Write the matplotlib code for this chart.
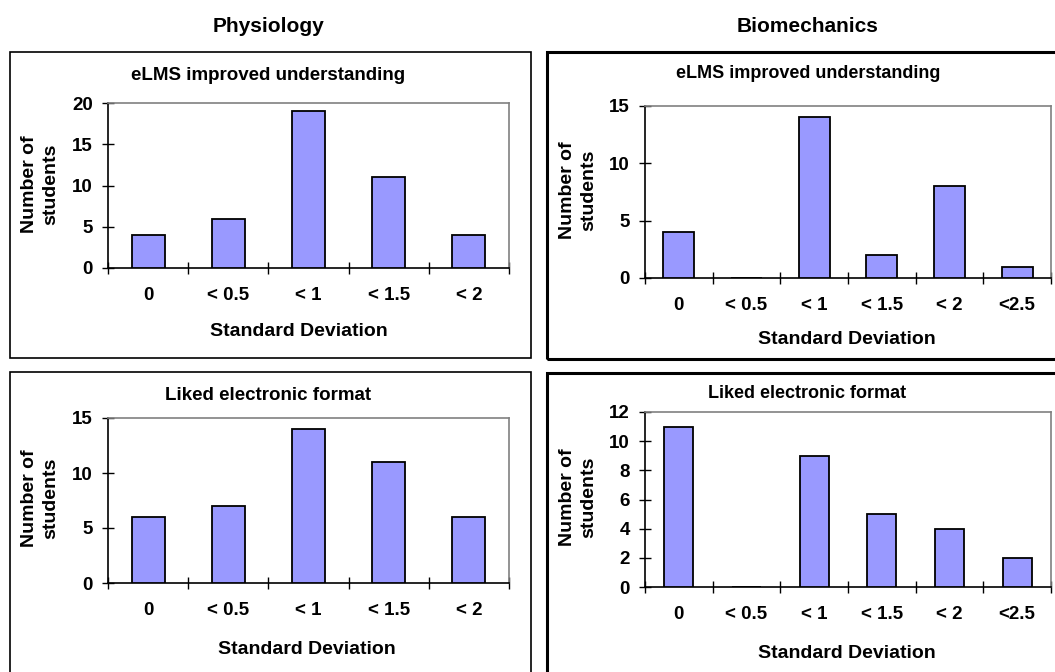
import matplotlib
matplotlib.use("Agg")
import matplotlib.pyplot as plt
from matplotlib.patches import Rectangle

plt.rcParams['font.family'] = ['Liberation Sans', 'DejaVu Sans']
plt.rcParams['font.weight'] = 'bold'

W, H = 1055, 672

# data
phys_cats = ["0", "< 0.5", "< 1", "< 1.5", "< 2"]
bio_cats = ["0", "< 0.5", "< 1", "< 1.5", "< 2", "<2.5"]
phys_understanding = [4, 6, 19, 11, 4]
bio_understanding = [4, 0, 14, 2, 8, 1]
phys_liked = [6, 7, 14, 11, 6]
bio_liked = [11, 0, 9, 5, 4, 2]
phys_understanding_ticks = [0, 5, 10, 15, 20]
bio_understanding_ticks = [0, 5, 10, 15]
phys_liked_ticks = [0, 5, 10, 15]
bio_liked_ticks = [0, 2, 4, 6, 8, 10, 12]

BAR = "#9999FF"
GRAY = "#808080"


def fx(x):
    return x / W


def fy(y):
    return 1 - y / H


def panel(fig, box, axbox, title, title_xy, xlabel_xy, ylabel_xy,
          cats, values, yticks, bar_w, box_lw, title_size):
    # outer frame of the chart object
    bx0, by0, bx1, by1 = box
    fig.add_artist(Rectangle((fx(bx0), fy(by1)), fx(bx1 - bx0), (by1 - by0) / H,
                             transform=fig.transFigure, fill=False,
                             edgecolor="black", linewidth=box_lw))
    l, t, r, b = axbox
    ax = fig.add_axes([fx(l), fy(b), fx(r - l), (b - t) / H])
    n = len(cats)
    x = list(range(n))
    ax.bar(x, values, width=bar_w, color=BAR, edgecolor="black", linewidth=1.3, zorder=3)
    ax.set_xlim(-0.5, n - 0.5)
    ax.set_ylim(yticks[0], yticks[-1])
    ax.set_yticks(yticks)
    # boundary ticks between categories, labels at the centres
    ax.set_xticks([i - 0.5 for i in range(n + 1)])
    ax.set_xticklabels([])
    ax.set_xticks(x, minor=True)
    ax.set_xticklabels(cats, minor=True)
    ax.tick_params(axis="x", which="major", direction="inout", length=9, width=1)
    ax.tick_params(axis="x", which="minor", length=0, pad=14, labelsize=13.5)
    ax.tick_params(axis="y", direction="inout", length=8, width=1, pad=7, labelsize=13.5)
    for s in ("top", "right"):
        ax.spines[s].set_color(GRAY)
        ax.spines[s].set_linewidth(1.2)
    for s in ("left", "bottom"):
        ax.spines[s].set_color("black")
        ax.spines[s].set_linewidth(1.2)
    fig.text(fx(title_xy[0]), fy(title_xy[1]), title, ha="center", va="center",
             fontsize=title_size, fontweight="bold")
    fig.text(fx(xlabel_xy[0]), fy(xlabel_xy[1]), "Standard Deviation", ha="center",
             va="center", fontsize=14, fontweight="bold")
    fig.text(fx(ylabel_xy[0]), fy(ylabel_xy[1]), "Number of\nstudents", ha="center",
             va="center", rotation=90, fontsize=14, fontweight="bold", linespacing=1.35)
    return ax


fig = plt.figure(figsize=(W / 100, H / 100), dpi=100)

fig.text(fx(269), fy(26), "Physiology", ha="center", va="center", fontsize=15, fontweight="bold")
fig.text(fx(808), fy(26), "Biomechanics", ha="center", va="center", fontsize=15, fontweight="bold")

panel(fig, (10, 52, 531, 358), (108, 103, 509, 268), "eLMS improved understanding",
      (268, 76), (299, 332), (40, 184), phys_cats, phys_understanding,
      phys_understanding_ticks, 0.41, 1.2, 13.5)
panel(fig, (547, 52, 1070, 359), (645, 106, 1051, 278), "eLMS improved understanding",
      (808, 74), (847, 340), (578, 190), bio_cats, bio_understanding,
      bio_understanding_ticks, 0.46, 2.2, 13)
panel(fig, (10, 372, 531, 690), (108, 418, 509, 583), "Liked electronic format",
      (268, 396), (307, 650), (40, 498), phys_cats, phys_liked,
      phys_liked_ticks, 0.41, 1.2, 13.5)
panel(fig, (547, 373, 1070, 690), (645, 412, 1051, 587), "Liked electronic format",
      (807, 393), (847, 653), (578, 497), bio_cats, bio_liked,
      bio_liked_ticks, 0.43, 2.2, 13)

fig.savefig("out.png", dpi=100)
